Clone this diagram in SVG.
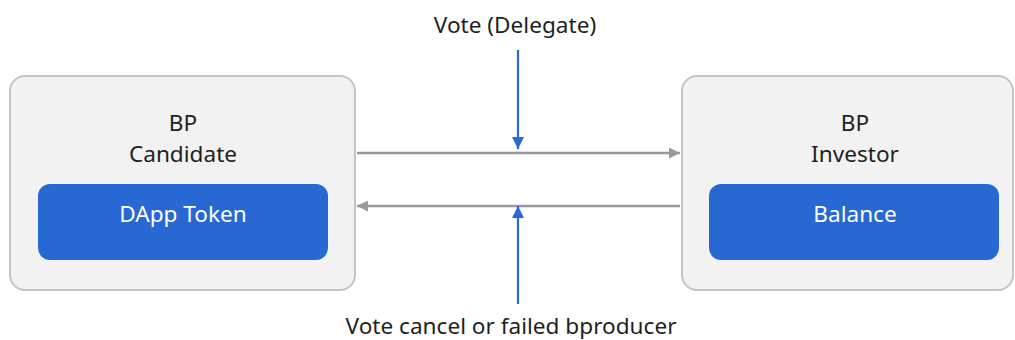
<svg xmlns="http://www.w3.org/2000/svg" width="1015" height="340" viewBox="0 0 1015 340">
<style>
.outer{fill:#f2f2f2;stroke:#c4c4c4;stroke-width:2}
.inner{fill:#2868d2}
.t{font-family:"Noto Sans","Open Sans",sans-serif;font-size:22.6px;fill:#1f1f1f;text-anchor:middle}
.w{fill:#ffffff}
.g{stroke:#999999;stroke-width:2.5;fill:none}
.b{stroke:#2a6ad8;stroke-width:2.2;fill:none}
</style>
<defs>
<marker id="ag" viewBox="0 0 10 10" refX="10" refY="5" markerWidth="12" markerHeight="11" markerUnits="userSpaceOnUse" orient="auto">
<path d="M0,0 L10,5 L0,10 Z" fill="#999999"/>
</marker>
<marker id="ab" viewBox="0 0 10 10" refX="10" refY="5" markerWidth="12" markerHeight="12" markerUnits="userSpaceOnUse" orient="auto">
<path d="M0,0 L10,5 L0,10 Z" fill="#2a6ad8"/>
</marker>
</defs>
<g id="candidate">
<rect class="outer" x="10" y="76" width="345" height="214" rx="15"/>
<text class="t" x="183" y="131">BP</text>
<text class="t" x="183" y="162">Candidate</text>
<g id="dapp-token">
<rect class="inner" x="38" y="184" width="290" height="76" rx="12"/>
<text class="t w" x="183" y="222">DApp Token</text>
</g>
</g>
<g id="investor">
<rect class="outer" x="682" y="76" width="331" height="214" rx="15"/>
<text class="t" x="855" y="131">BP</text>
<text class="t" x="855" y="162">Investor</text>
<g id="balance">
<rect class="inner" x="709" y="184" width="290" height="76" rx="12"/>
<text class="t w" x="855" y="222">Balance</text>
</g>
</g>
<g id="labels">
<text class="t" x="515" y="33">Vote (Delegate)</text>
<text class="t" x="511" y="334">Vote cancel or failed bproducer</text>
</g>
<g id="connectors">
<line class="g" x1="357" y1="153" x2="680" y2="153" marker-end="url(#ag)"/>
<line class="g" x1="680" y1="206" x2="357" y2="206" marker-end="url(#ag)"/>
<line class="b" x1="518" y1="50" x2="518" y2="149" marker-end="url(#ab)"/>
<line class="b" x1="518" y1="304" x2="518" y2="206" marker-end="url(#ab)"/>
</g>
</svg>
